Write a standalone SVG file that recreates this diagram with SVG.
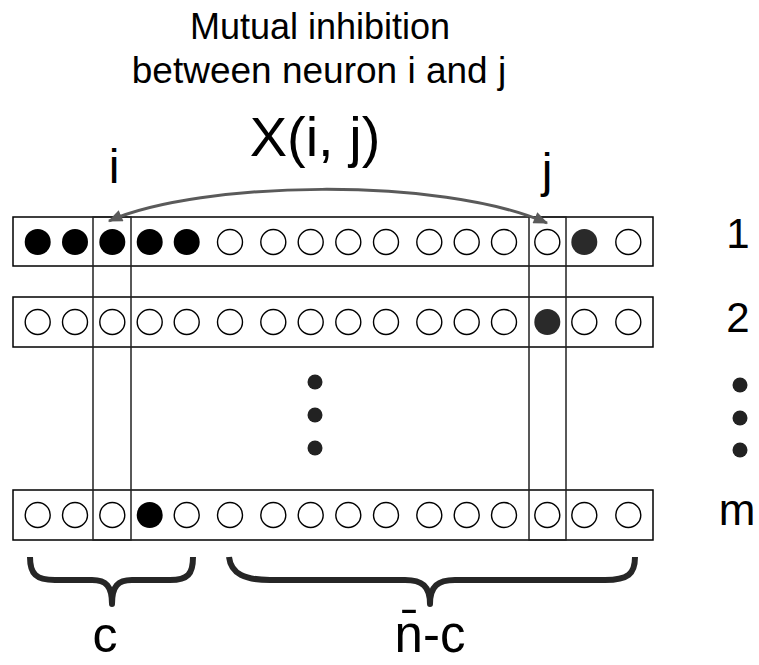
<svg xmlns="http://www.w3.org/2000/svg" width="759" height="665" viewBox="0 0 759 665">
<style>
text{font-family:"Liberation Sans",Arial,sans-serif;fill:#000;text-anchor:middle}
.row{fill:#fff;stroke:#000;stroke-width:1.5}
.col{fill:none;stroke:#222;stroke-width:1.5}
.o{fill:#fff;stroke:#000;stroke-width:1.4}
.f{fill:#000}
.g{fill:#2a2a2a}
.dot{fill:#222}
.brace{fill:none;stroke:#262626;stroke-width:6;stroke-linejoin:round}
.conn{fill:none;stroke:#5a5a5a;stroke-width:3}
</style>
<defs>
<marker id="ah" viewBox="0 0 12 10" refX="11" refY="5" markerWidth="5" markerHeight="4" markerUnits="strokeWidth" orient="auto-start-reverse">
<path d="M0 0 L12 5 L0 10 Z" fill="#5a5a5a"/>
</marker>
</defs>
<rect width="759" height="665" fill="#fff"/>

<g id="title">
<text x="320" y="39" font-size="36">Mutual inhibition</text>
<text x="319" y="83" font-size="37">between neuron i and j</text>
<text x="315" y="156" font-size="56">X(i, j)</text>
</g>

<g id="row1">
<rect class="row" x="13" y="217" width="640" height="49"/>
<circle class="f" cx="37.7" cy="242" r="13"/>
<circle class="f" cx="75" cy="242" r="13"/>
<circle class="f" cx="112.3" cy="242" r="13"/>
<circle class="f" cx="149.7" cy="242" r="13"/>
<circle class="f" cx="186.7" cy="242" r="13"/>
<circle class="o" cx="230" cy="242" r="12.5"/>
<circle class="o" cx="273.3" cy="242" r="12.5"/>
<circle class="o" cx="310.7" cy="242" r="12.5"/>
<circle class="o" cx="348.3" cy="242" r="12.5"/>
<circle class="o" cx="386" cy="242" r="12.5"/>
<circle class="o" cx="429.3" cy="242" r="12.5"/>
<circle class="o" cx="466.7" cy="242" r="12.5"/>
<circle class="o" cx="504" cy="242" r="12.5"/>
<circle class="o" cx="547.3" cy="242" r="12.5"/>
<circle class="g" cx="584.3" cy="242" r="13"/>
<circle class="o" cx="628.3" cy="242" r="12.5"/>
</g>

<g id="row2">
<rect class="row" x="13" y="297" width="640" height="50"/>
<circle class="o" cx="37.7" cy="322" r="12.5"/>
<circle class="o" cx="75" cy="322" r="12.5"/>
<circle class="o" cx="112.3" cy="322" r="12.5"/>
<circle class="o" cx="149.7" cy="322" r="12.5"/>
<circle class="o" cx="186.7" cy="322" r="12.5"/>
<circle class="o" cx="230" cy="322" r="12.5"/>
<circle class="o" cx="273.3" cy="322" r="12.5"/>
<circle class="o" cx="310.7" cy="322" r="12.5"/>
<circle class="o" cx="348.3" cy="322" r="12.5"/>
<circle class="o" cx="386" cy="322" r="12.5"/>
<circle class="o" cx="429.3" cy="322" r="12.5"/>
<circle class="o" cx="466.7" cy="322" r="12.5"/>
<circle class="o" cx="504" cy="322" r="12.5"/>
<circle class="g" cx="547.3" cy="322" r="13"/>
<circle class="o" cx="584.3" cy="322" r="12.5"/>
<circle class="o" cx="628.3" cy="322" r="12.5"/>
</g>

<g id="rowm">
<rect class="row" x="13" y="490" width="640" height="50"/>
<circle class="o" cx="37.7" cy="515" r="12.5"/>
<circle class="o" cx="75" cy="515" r="12.5"/>
<circle class="o" cx="112.3" cy="515" r="12.5"/>
<circle class="f" cx="149.7" cy="515" r="13"/>
<circle class="o" cx="186.7" cy="515" r="12.5"/>
<circle class="o" cx="230" cy="515" r="12.5"/>
<circle class="o" cx="273.3" cy="515" r="12.5"/>
<circle class="o" cx="310.7" cy="515" r="12.5"/>
<circle class="o" cx="348.3" cy="515" r="12.5"/>
<circle class="o" cx="386" cy="515" r="12.5"/>
<circle class="o" cx="429.3" cy="515" r="12.5"/>
<circle class="o" cx="466.7" cy="515" r="12.5"/>
<circle class="o" cx="504" cy="515" r="12.5"/>
<circle class="o" cx="547.3" cy="515" r="12.5"/>
<circle class="o" cx="584.3" cy="515" r="12.5"/>
<circle class="o" cx="628.3" cy="515" r="12.5"/>
</g>

<g id="col-i">
<rect class="col" x="93" y="217" width="38" height="323"/>
<text x="114" y="183" font-size="48">i</text>
</g>
<g id="col-j">
<rect class="col" x="529" y="217" width="37" height="323"/>
<text x="547" y="187" font-size="48">j</text>
</g>

<g id="ellipsis-mid">
<circle class="dot" cx="315" cy="382" r="7.5"/>
<circle class="dot" cx="315" cy="415" r="7.5"/>
<circle class="dot" cx="315" cy="448" r="7.5"/>
</g>

<g id="row-labels">
<text x="738" y="248" font-size="42">1</text>
<text x="738" y="332" font-size="42">2</text>
<circle class="dot" cx="740" cy="385" r="7.5"/>
<circle class="dot" cx="740" cy="418" r="7.5"/>
<circle class="dot" cx="740" cy="450" r="7.5"/>
<text x="737" y="525" font-size="44">m</text>
</g>

<g id="brace-c">
<path class="brace" d="M30 557 C30 574 36 580 55 580 L92 580 C106 580 112 586 112 604 C112 586 118 580 132 580 L170 580 C188 580 193 574 193 557"/>
<text x="105" y="652" font-size="50">c</text>
</g>
<g id="brace-nc">
<path class="brace" d="M229 557 C231 574 245 580 270 580 L405 580 C422 580 430 586 430 604 C430 586 438 580 455 580 L605 580 C628 580 635 574 635 557"/>
<text x="430" y="652" font-size="51">n̄-c</text>
</g>

<g id="connectors">
<path class="conn" d="M109 221 C200 181 440 176 547 223" marker-start="url(#ah)" marker-end="url(#ah)"/>
</g>
</svg>
